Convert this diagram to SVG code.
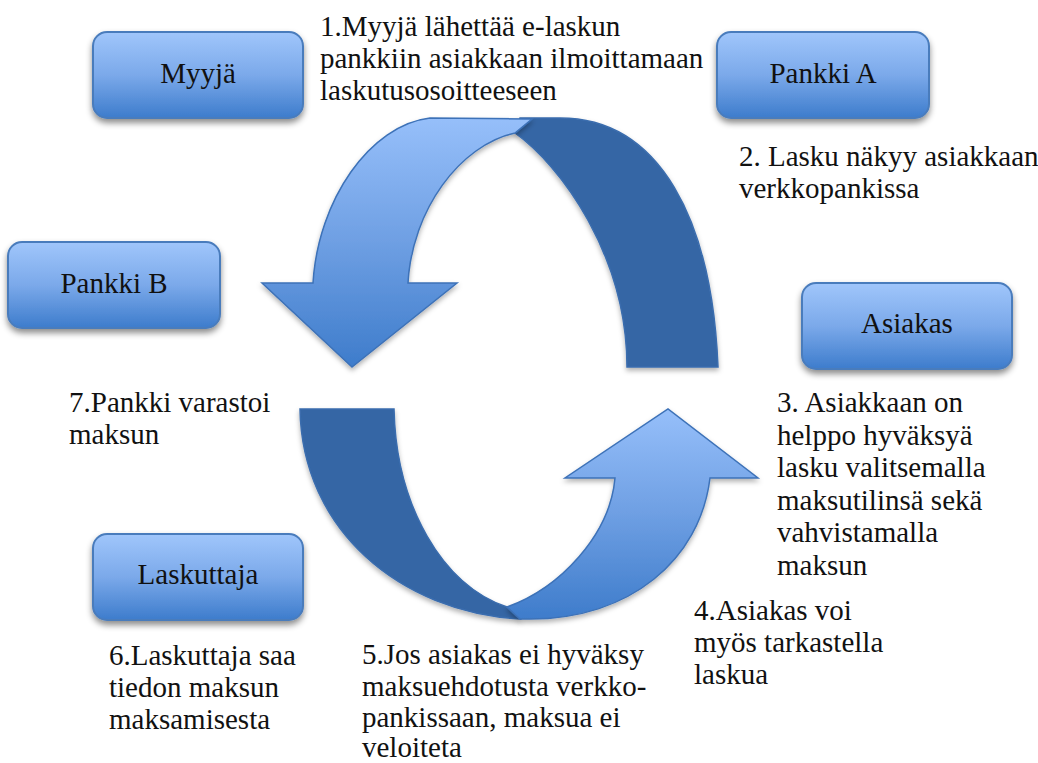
<svg xmlns="http://www.w3.org/2000/svg" width="1038" height="763" viewBox="0 0 1038 763">
<defs>
<linearGradient id="boxg" x1="0" y1="0" x2="0" y2="1">
<stop offset="0" stop-color="#A0C6FB"/>
<stop offset="0.5" stop-color="#7BA9EA"/>
<stop offset="1" stop-color="#3D7CCC"/>
</linearGradient>
<linearGradient id="arrg" x1="0" y1="0" x2="0" y2="1">
<stop offset="0" stop-color="#96BFFA"/>
<stop offset="0.5" stop-color="#6E9FE3"/>
<stop offset="1" stop-color="#3E7CCB"/>
</linearGradient>
<filter id="sh" x="-20%" y="-20%" width="140%" height="150%">
<feDropShadow dx="0" dy="4" stdDeviation="3" flood-color="#000" flood-opacity="0.45"/>
</filter>
<filter id="ash" x="-20%" y="-20%" width="140%" height="140%">
<feDropShadow dx="0" dy="3" stdDeviation="2.5" flood-color="#000" flood-opacity="0.3"/>
</filter>
</defs>
<style>
.box{fill:url(#boxg);stroke:#4A7CBC;stroke-width:2;filter:url(#sh)}
.lbl{font-family:"Liberation Serif","Times New Roman",serif;font-size:29px;fill:#111;text-anchor:middle}
.txt{font-family:"Liberation Serif","Times New Roman",serif;font-size:29px;fill:#111}
.dark{fill:#3466A5;stroke:#3B6DAE;stroke-width:1.5;filter:url(#ash)}
.light{fill:url(#arrg);stroke:#3D72B8;stroke-width:1.5;filter:url(#ash)}
</style>
<rect width="1038" height="763" fill="#fff"/>

<g id="connectors">
<path class="dark" d="M 718,367 C 712,220 660,118 560,118 L 520,118 L 515,133 C 560,165 627,255 627,367 Z"/>
<path class="light" d="M 532,119 L 430,118 C 370,125 318,200 313,283 L 262,283 L 352,367 L 457,283 L 408,283 C 412,210 460,145 515,133 Z"/>
<path class="dark" d="M 300,409 L 394,409 C 396,505 442,585 507,607 L 520,619 C 400,612 302,530 300,409 Z"/>
<path class="light" d="M 507,607 C 560,588 610,535 615,478 L 565,478 L 668,409 L 758,478 L 710,478 C 700,560 630,619 530,619 L 520,619 Z"/>
</g>

<g id="node-myyja">
<rect class="box" x="93" y="32" width="210" height="86" rx="14"/>
<text class="lbl" x="198" y="83">Myyjä</text>
</g>
<g id="node-pankki-a">
<rect class="box" x="717" y="32" width="212" height="86" rx="14"/>
<text class="lbl" x="823" y="83">Pankki A</text>
</g>
<g id="node-pankki-b">
<rect class="box" x="8" y="242" width="212" height="86" rx="14"/>
<text class="lbl" x="114" y="293">Pankki B</text>
</g>
<g id="node-asiakas">
<rect class="box" x="802" y="283" width="210" height="86" rx="14"/>
<text class="lbl" x="907" y="333">Asiakas</text>
</g>
<g id="node-laskuttaja">
<rect class="box" x="93" y="534" width="210" height="86" rx="14"/>
<text class="lbl" x="198" y="584">Laskuttaja</text>
</g>

<g id="step-1">
<text class="txt" x="320" y="36">1.Myyjä lähettää e-laskun</text>
<text class="txt" x="320" y="68">pankkiin asiakkaan ilmoittamaan</text>
<text class="txt" x="320" y="100">laskutusosoitteeseen</text>
</g>
<g id="step-2">
<text class="txt" x="739" y="166">2. Lasku näkyy asiakkaan</text>
<text class="txt" x="739" y="198">verkkopankissa</text>
</g>
<g id="step-3">
<text class="txt" x="777" y="412">3. Asiakkaan on</text>
<text class="txt" x="777" y="444.5">helppo hyväksyä</text>
<text class="txt" x="777" y="477">lasku valitsemalla</text>
<text class="txt" x="777" y="509.5">maksutilinsä sekä</text>
<text class="txt" x="777" y="542">vahvistamalla</text>
<text class="txt" x="777" y="574.5">maksun</text>
</g>
<g id="step-4">
<text class="txt" x="694" y="620">4.Asiakas voi</text>
<text class="txt" x="694" y="652">myös tarkastella</text>
<text class="txt" x="694" y="684">laskua</text>
</g>
<g id="step-5">
<text class="txt" x="362" y="664">5.Jos asiakas ei hyväksy</text>
<text class="txt" x="362" y="695.5">maksuehdotusta verkko-</text>
<text class="txt" x="362" y="727">pankissaan, maksua ei</text>
<text class="txt" x="362" y="757">veloiteta</text>
</g>
<g id="step-6">
<text class="txt" x="109" y="665">6.Laskuttaja saa</text>
<text class="txt" x="109" y="697">tiedon maksun</text>
<text class="txt" x="109" y="729">maksamisesta</text>
</g>
<g id="step-7">
<text class="txt" x="69" y="412">7.Pankki varastoi</text>
<text class="txt" x="69" y="444">maksun</text>
</g>
</svg>
